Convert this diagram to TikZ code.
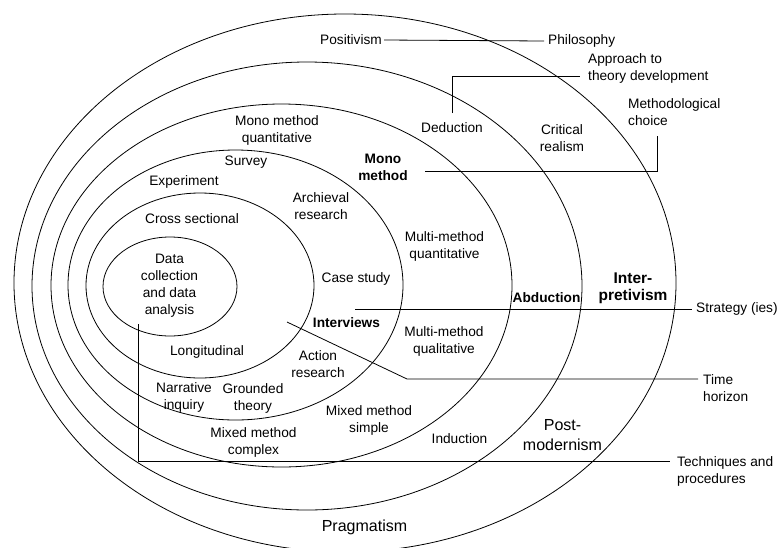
\documentclass[tikz,border=0pt]{standalone}
\usepackage{fontspec}
\setmainfont{Liberation Sans}
\tikzset{
  ring/.style={draw=black, line width=0.8pt},
  lead/.style={draw=black, line width=0.8pt},
  lbl/.style={align=center, inner sep=2pt, font=\fontsize{13.7}{17}\selectfont},
  blbl/.style={lbl, font=\fontsize{13.7}{17}\selectfont\bfseries},
  biglbl/.style={lbl, font=\fontsize{16}{20}\selectfont},
  side/.style={lbl, align=left, anchor=west, inner xsep=4pt}
}
\begin{document}
\begin{tikzpicture}[x=1pt, y=-1pt]
\useasboundingbox (0,0) rectangle (777,547);
\clip (0,0) rectangle (777,547);
% onion layers, outer to inner
\foreach \cx/\cy/\rx/\ry in {345/283/331pt/269pt, 307/286/275pt/224pt, 281.5/285.5/230.5pt/181.5pt,
    235.5/285/167.5pt/135pt, 200/285.5/114pt/92.5pt, 170/286.5/67pt/49.5pt}
  \draw[ring] (\cx,\cy) ellipse [x radius=\rx, y radius=\ry];

% philosophy layer
\node[lbl] (pos) at (351,40) {Positivism};
\node[lbl] (crit) at (562,138) {Critical\\realism};
\node[blbl, font=\fontsize{15.5}{17}\selectfont\bfseries] (inter) at (633,288.5) {Inter-\\pretivism};
\node[biglbl] (post) at (562.5,435) {Post-\\modernism};
\node[biglbl] (prag) at (364.5,527) {Pragmatism};
% approach layer
\node[lbl] (ded) at (452,128) {Deduction};
\node[blbl] (abd) at (546.5,298) {Abduction};
\node[lbl] (induc) at (459.5,439) {Induction};
% methodological choice layer
\node[lbl] (mmquan) at (277,130) {Mono method\\quantitative};
\node[blbl] (mono) at (383,167) {Mono\\method};
\node[lbl] (multquan) at (444.5,246.5) {Multi-method\\quantitative};
\node[lbl] (multqual) at (444,341.5) {Multi-method\\qualitative};
\node[lbl] (mms) at (369,420.5) {Mixed method\\simple};
\node[lbl] (mmc) at (253.5,442.5) {Mixed method\\complex};
% strategies layer
\node[lbl] (surv) at (246,162) {Survey};
\node[lbl] (exper) at (184,182) {Experiment};
\node[lbl] (arch) at (321,206.5) {Archieval\\research};
\node[lbl] (case) at (356,279) {Case study};
\node[blbl] (intv) at (346.5,323) {Interviews};
\node[lbl] (action) at (318,364.5) {Action\\research};
\node[lbl] (ground) at (253,398.5) {Grounded\\theory};
\node[lbl] (narr) at (184,397) {Narrative\\inquiry};
% time horizon layer
\node[lbl] (cross) at (192,219) {Cross sectional};
\node[lbl] (longi) at (207,352) {Longitudinal};
% core
\node[lbl] (data) at (169.5,285.5) {Data\\collection\\and data\\analysis};

% layer names on the right
\node[side] (phil) at (544,41) {Philosophy};
\node[side] (appr) at (584,68) {Approach to\\theory development};
\node[side] (meth) at (624,112.5) {Methodological\\choice};
\node[side] (strat) at (692,309) {Strategy (ies)};
\node[side] (time) at (699,388) {Time\\horizon};
\node[side] (tech) at (673,471.5) {Techniques and\\procedures};

\coordinate (dedtop) at (452,113);
\coordinate (apin) at (580,76);
\coordinate (mctop) at (657,136);
\coordinate (monoin) at (425,171);
\coordinate (strin) at (355,309);
\coordinate (timein) at (287,322);
\coordinate (timebend) at (407,379);
\coordinate (timeout) at (698,379);
\coordinate (techin) at (138,324);
\coordinate (techout) at (670,461);

\draw[lead] (pos.east) -- (phil.west);
\draw[lead] (dedtop) |- (apin);
\draw[lead] (mctop) |- (monoin);
\draw[lead] (strin) -- (strat.west);
\draw[lead] (timein) -- (timebend) -- (timeout);
\draw[lead] (techin) |- (techout);
\end{tikzpicture}
\end{document}
